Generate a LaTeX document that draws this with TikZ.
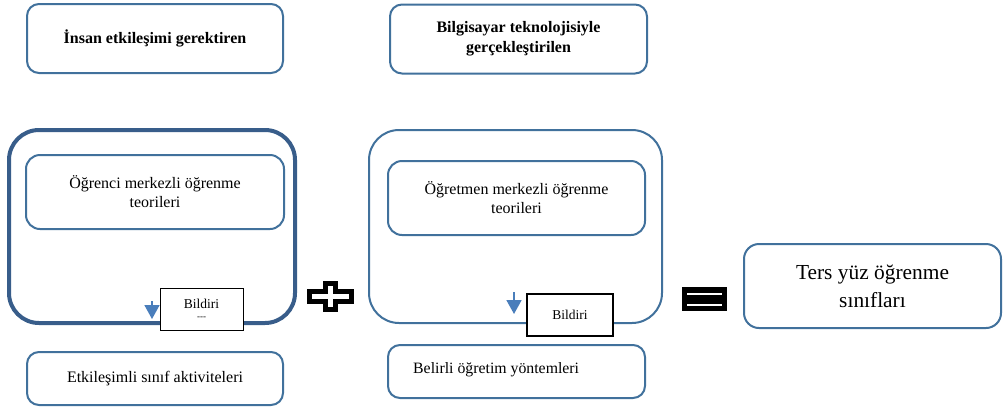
\documentclass[tikz,border=0pt]{standalone}
\usepackage{fontspec}
\setmainfont{Liberation Serif}
\usetikzlibrary{arrows.meta}
\definecolor{bline}{HTML}{41719C}
\definecolor{bdark}{HTML}{385D8A}
\definecolor{arrowblue}{HTML}{4A7EBB}
\tikzset{
  box/.style={draw=bline, line width=2pt, rounded corners=12pt, align=center, inner sep=0pt, fill=white},
  bildiri/.style={draw=black, fill=white, align=center, inner sep=0pt, font=\fontsize{13.5}{15}\selectfont},
  smallarrow/.style={draw=arrowblue, line width=1.8pt, -{Triangle[width=15pt,length=14pt]}, arrowblue},
}
\begin{document}
\begin{tikzpicture}[x=1pt,y=-1pt]
\useasboundingbox (0,0) rectangle (1003,408);
% top boxes
\node[box, minimum width=256pt, minimum height=69pt, font=\bfseries\fontsize{16}{20}\selectfont] (top1) at (155,38.5) {İnsan etkileşimi gerektiren};
\node[box, minimum width=257pt, minimum height=69pt, font=\bfseries\fontsize{16}{20}\selectfont] (top2) at (518.5,39) {Bilgisayar teknolojisiyle\\gerçekleştirilen};
% big containers
\node[box, draw=bdark, line width=4pt, rounded corners=30pt, minimum width=286pt, minimum height=193pt] (bigL) at (152,226.5) {};
\node[box, line width=2pt, rounded corners=30pt, minimum width=293pt, minimum height=193pt] (bigR) at (515.5,226.5) {};
% inner boxes
\node[box, rounded corners=14pt, minimum width=258pt, minimum height=74pt, font=\fontsize{16}{19}\selectfont] (innerL) at (155,192) {Öğrenci merkezli öğrenme\\teorileri};
\node[box, rounded corners=14pt, minimum width=257pt, minimum height=74pt, font=\fontsize{16}{19}\selectfont] (innerR) at (516.5,198) {Öğretmen merkezli öğrenme\\teorileri};
% Bildiri boxes
\node[bildiri, line width=1pt, minimum width=83pt, minimum height=42pt] (bilL) at (201.5,309) {Bildiri\\[-4pt]{\fontsize{9}{9}\selectfont -{}-{}-}};
\node[bildiri, line width=2pt, minimum width=86pt, minimum height=42pt] (bilR) at (570,315) {Bildiri};
% small arrows
\coordinate (aLs) at (152,301);
\coordinate (aLe) at (152,319);
\coordinate (aRs) at (514,292);
\coordinate (aRe) at (514,314);
\draw[smallarrow] (aLs) -- (aLe);
\draw[smallarrow] (aRs) -- (aRe);
% plus sign
\draw[black, line width=5pt, fill=white, miter limit=10] (325.5,283.5) -- (335.5,283.5) -- (335.5,291.5) -- (351.5,291.5) -- (351.5,301.5) -- (335.5,301.5) -- (335.5,309.5) -- (325.5,309.5) -- (325.5,301.5) -- (309.5,301.5) -- (309.5,291.5) -- (325.5,291.5) -- cycle;
% equals sign
\fill[black] (682,287) rectangle (727,311);
\draw[white, line width=2pt] (687,293.5) -- (722,293.5);
\draw[white, line width=2pt] (687,304.5) -- (722,304.5);
% result
\node[box, rounded corners=15pt, minimum width=257pt, minimum height=84pt, font=\fontsize{21.4}{28}\selectfont] (res) at (872.5,286) {Ters yüz öğrenme\\sınıfları};
% bottom boxes
\node[box, minimum width=256pt, minimum height=53pt, font=\fontsize{16}{19}\selectfont] (botL) at (155,378.5) {Etkileşimli sınıf aktiviteleri};
\node[box, minimum width=257pt, minimum height=53pt] (botR) at (516.5,371.5) {};
\node[anchor=west, inner sep=0pt, font=\fontsize{15.8}{19}\selectfont] (botRt) at (413,370) {Belirli öğretim yöntemleri};
\end{tikzpicture}
\end{document}
